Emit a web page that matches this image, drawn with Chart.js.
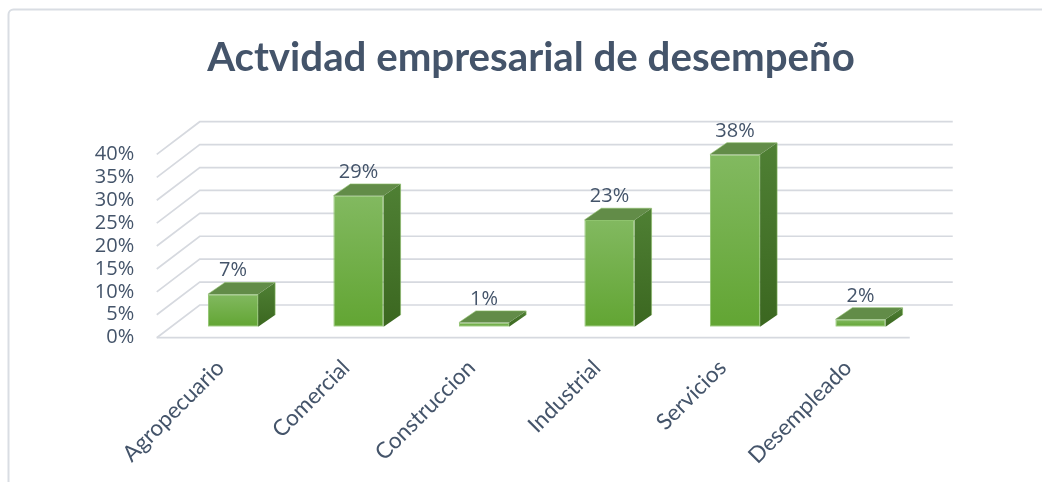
<!DOCTYPE html>
<html><head><meta charset="utf-8">
<script src="https://cdn.jsdelivr.net/npm/chart.js@4.4.1/dist/chart.umd.min.js"></script>
<style>html,body{margin:0;padding:0;background:#fff;overflow:hidden}canvas{display:block}</style>
</head><body>
<canvas id="c" width="1042" height="482"></canvas>
<script>
// ---- data ----
const TITLE = 'Actvidad empresarial de desempeño';
const categories = ['Agropecuario', 'Comercial', 'Construccion', 'Industrial', 'Servicios', 'Desempleado'];
const values = [7.1, 28.6, 0.9, 23.3, 37.6, 1.6];
const yTicks = [0, 5, 10, 15, 20, 25, 30, 35, 40];

// ---- styling / geometry ----
const TEXT = '#44546A';
const GEO = { front: { dx: -13.5, dy: 11 }, back: { dx: 29.5, dy: -21.7 }, bar: { dx: 17, dy: -11.7 } };
const TITLE_W = 648, TITLE_CX = 531, TITLE_BASE = 71;

const meas = document.createElement('canvas').getContext('2d');
meas.font = 'bold 100px Lato';
const titleSize = 100 * TITLE_W / meas.measureText(TITLE).width;

const threeD = {
  id: 'threeD',
  beforeDraw(chart) {
    const c = chart.ctx;
    c.save();
    c.strokeStyle = '#D9DDE3'; c.lineWidth = 2;
    c.beginPath(); c.roundRect(8.5, 9.5, 1200, 700, 5); c.stroke();
    c.restore();
  },
  beforeDatasetsDraw(chart) {
    const { ctx, chartArea: a, scales: { y } } = chart;
    ctx.save();
    ctx.strokeStyle = '#D6D9DF'; ctx.lineWidth = 1.7;
    y.ticks.forEach(t => {
      const py = y.getPixelForValue(t.value);
      const fx = a.left + GEO.front.dx, fy = py + GEO.front.dy;
      const bl = a.left + GEO.back.dx, br = a.right + GEO.back.dx, by = py + GEO.back.dy;
      ctx.beginPath(); ctx.moveTo(fx, fy); ctx.lineTo(bl, by); ctx.lineTo(br, by); ctx.stroke();
      if (t.value === y.min) {
        ctx.beginPath(); ctx.moveTo(fx, fy); ctx.lineTo(a.right + GEO.front.dx, fy); ctx.stroke();
      }
    });
    ctx.restore();
  },
  afterDatasetsDraw(chart) {
    const { ctx } = chart;
    const meta = chart.getDatasetMeta(0);
    const { dx, dy } = GEO.bar;
    ctx.save();
    meta.data.forEach((bar, i) => {
      const l = bar.x - bar.width / 2, r = bar.x + bar.width / 2, t = bar.y, b = bar.base;
      // side face
      const sg = ctx.createLinearGradient(0, t + dy, 0, b);
      sg.addColorStop(0, '#4F8034'); sg.addColorStop(1, '#3B6720');
      ctx.fillStyle = sg;
      ctx.beginPath(); ctx.moveTo(r, t); ctx.lineTo(r + dx, t + dy); ctx.lineTo(r + dx, b + dy); ctx.lineTo(r, b); ctx.closePath(); ctx.fill();
      // top face
      ctx.fillStyle = '#628C48';
      ctx.beginPath(); ctx.moveTo(l, t); ctx.lineTo(l + dx, t + dy); ctx.lineTo(r + dx, t + dy); ctx.lineTo(r, t); ctx.closePath(); ctx.fill();
      ctx.strokeStyle = 'rgba(140,190,105,0.6)'; ctx.lineWidth = 1;
      ctx.beginPath(); ctx.moveTo(l, t); ctx.lineTo(l + dx, t + dy); ctx.lineTo(r + dx, t + dy); ctx.lineTo(r + dx, b + dy); ctx.stroke();
      // data label
      ctx.fillStyle = TEXT;
      ctx.font = '20px "Open Sans"';
      ctx.textAlign = 'center'; ctx.textBaseline = 'alphabetic';
      ctx.fillText(Math.round(values[i]) + '%', bar.x, t + dy - 6);
    });
    ctx.restore();
  },
  afterDraw(chart) {
    const c = chart.ctx;
    c.save();
    c.fillStyle = TEXT;
    c.font = 'bold ' + titleSize + 'px Lato';
    c.textAlign = 'center'; c.textBaseline = 'alphabetic';
    c.fillText(TITLE, TITLE_CX, TITLE_BASE);
    c.restore();
  }
};

new Chart(document.getElementById('c'), {
  type: 'bar',
  data: {
    labels: categories,
    datasets: [{
      data: values,
      barPercentage: 0.4,
      categoryPercentage: 1,
      borderWidth: 1,
      borderColor: '#8FC46E',
      borderSkipped: false,
      backgroundColor(ctx) {
        const ch = ctx.chart, y = ch.scales && ch.scales.y;
        if (!ch.chartArea || !y) return '#70AD47';
        const top = y.getPixelForValue(ctx.raw), bot = y.getPixelForValue(0);
        if (!isFinite(top) || bot - top < 1) return '#6CAE44';
        const g = ch.ctx.createLinearGradient(0, top, 0, bot);
        g.addColorStop(0, '#82B960'); g.addColorStop(1, '#62A533');
        return g;
      }
    }]
  },
  options: {
    responsive: false,
    animation: false,
    devicePixelRatio: 1,
    layout: { padding: { top: 143.4, right: 118.75, left: 0, bottom: 0 } },
    plugins: { legend: { display: false }, title: { display: false }, tooltip: { enabled: false } },
    scales: {
      x: {
        grid: { display: false, drawTicks: false },
        border: { display: false },
        ticks: {
          autoSkip: false, minRotation: 45, maxRotation: 45,
          padding: 27.8, labelOffset: -12.5,
          color: TEXT, font: { family: 'Lato', size: 22.5 }
        },
        afterFit(s) { s.height = 155.3; }
      },
      y: {
        min: yTicks[0], max: yTicks[yTicks.length - 1],
        grid: { display: false, drawTicks: false },
        border: { display: false },
        ticks: {
          autoSkip: false,
          stepSize: yTicks[1] - yTicks[0],
          padding: 36, labelOffset: GEO.front.dy,
          color: TEXT, font: { family: 'Open Sans', size: 20 },
          callback: v => v + '%'
        },
        afterFit(s) { s.width = 170.25; }
      }
    }
  },
  plugins: [threeD]
});
</script>
</body></html>
